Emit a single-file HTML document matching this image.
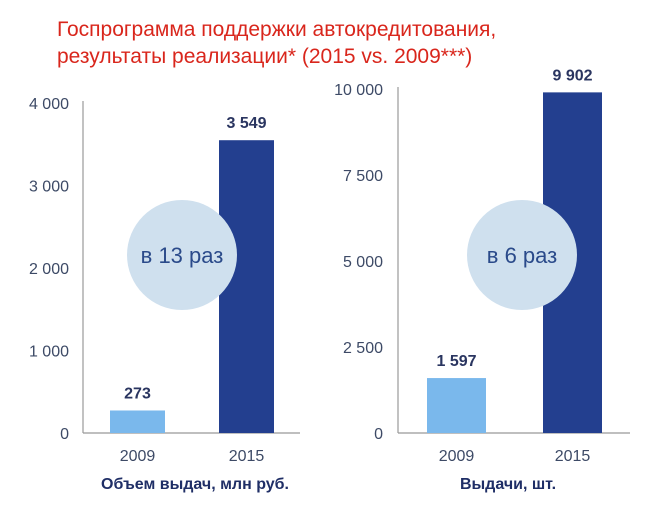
<!DOCTYPE html>
<html><head><meta charset="utf-8"><style>
html,body{margin:0;padding:0;background:#fff;width:670px;height:524px;overflow:hidden}
svg{display:block;font-family:"Liberation Sans",Arial,sans-serif}
</style></head><body>
<svg id="c" width="670" height="524" viewBox="0 0 670 524">
<text x="57" y="36" font-size="21" fill="#d9261c">Госпрограмма поддержки автокредитования,</text>
<text x="57" y="63" font-size="21" fill="#d9261c">результаты реализации* (2015 vs. 2009***)</text>
</svg>
<script>
const categories = ["2009","2015"];
const leftValues = [273, 3549];
const leftLabels = ["273","3 549"];
const leftTicks = [0,1000,2000,3000,4000];
const leftTickLabels = ["0","1 000","2 000","3 000","4 000"];
const rightValues = [1597, 9902];
const rightLabels = ["1 597","9 902"];
const rightTicks = [0,2500,5000,7500,10000];
const rightTickLabels = ["0","2 500","5 000","7 500","10 000"];

const NS="http://www.w3.org/2000/svg";
const svg=document.getElementById('c');
function mk(tag,attrs,txt){const e=document.createElementNS(NS,tag);for(const k in attrs)e.setAttribute(k,attrs[k]);if(txt!==undefined)e.textContent=txt;svg.appendChild(e);return e;}
const colors=["#7ab8ec","#233f8f"];

function drawChart(p,values,labels,ticks,tickLabels,max,title,ratio,prefix){
  const y=v=>p.base-(v/max)*(p.base-p.top);
  ticks.forEach((t,i)=>{
    const e=mk('text',{x:p.tickX,y:y(t)+6,'font-size':16,fill:'#3d4a66','text-anchor':'end'},tickLabels[i]);
    
    
  });
  const ax=mk('line',{x1:p.ax,y1:p.top-2,x2:p.ax,y2:p.base,stroke:'#999','stroke-width':1.2});
  
  
  const xa=mk('line',{x1:p.ax,y1:p.base,x2:p.axEnd,y2:p.base,stroke:'#999','stroke-width':1.2});
  
  
  values.forEach((v,i)=>{
    const x0=p.barX[i];
    const b=mk('rect',{x:x0,y:y(v),width:p.bw,height:p.base-y(v),fill:colors[i]});
    
    
    const l=mk('text',{x:x0+p.bw/2,y:y(v)-12,'font-size':16,'font-weight':'bold',fill:'#2a3560','text-anchor':'middle'},labels[i]);
    
    
    const c=mk('text',{x:x0+p.bw/2,y:p.base+28,'font-size':16,fill:'#3d4a66','text-anchor':'middle'},categories[i]);
    
    
  });
  const ci=mk('circle',{cx:p.cx,cy:255,r:55,fill:'#cfe0ee'});
  
  
  const ct=mk('text',{x:p.cx,y:263,'font-size':22,fill:'#2a4a8a','text-anchor':'middle'},ratio);
  
  
  const t=mk('text',{x:p.titleX,y:489,'font-size':16,'font-weight':'bold',fill:'#1f2e66','text-anchor':'middle'},title);
  
  
}
drawChart({base:433,top:103,tickX:69,ax:83,axEnd:300,barX:[110,219],bw:55,cx:182,titleX:195},
  leftValues,leftLabels,leftTicks,leftTickLabels,4000,"Объем выдач, млн руб.","в 13 раз","left");
drawChart({base:433,top:89,tickX:383,ax:398,axEnd:630,barX:[427,543],bw:59,cx:522,titleX:508},
  rightValues,rightLabels,rightTicks,rightTickLabels,10000,"Выдачи, шт.","в 6 раз","right");
</script>
</body></html>
